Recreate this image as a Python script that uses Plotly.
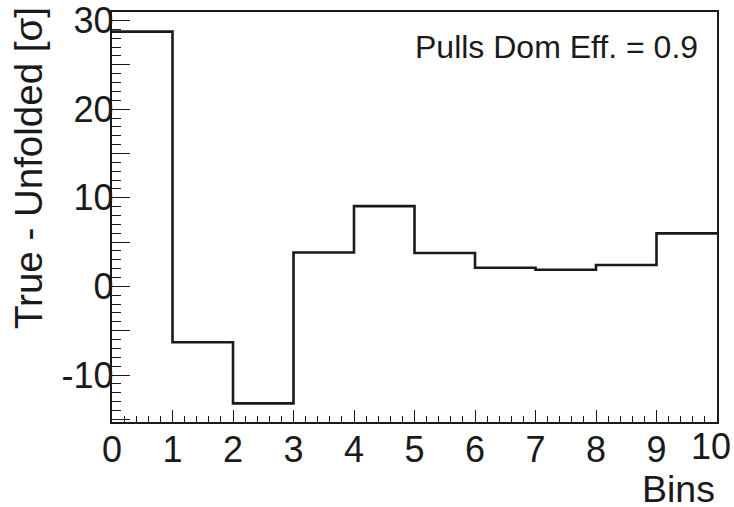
import plotly.graph_objects as go

# Data
bin_edges = [0, 1, 2, 3, 4, 5, 6, 7, 8, 9, 10]
pulls = [28.75, -6.3, -13.2, 3.83, 9.06, 3.76, 2.1, 1.88, 2.41, 5.98]
x_tick_vals = [0, 1, 2, 3, 4, 5, 6, 7, 8, 9, 10]
x_tick_labels = ["0", "1", "2", "3", "4", "5", "6", "7", "8", "9", "10"]
y_tick_vals = [-15, -10, -5, 0, 5, 10, 15, 20, 25, 30]
y_tick_labels = ["", "-10", "", "0", "", "10", "", "20", "", "30"]
x_title = "Bins"
y_title = "True - Unfolded [σ]"
label_text = "Pulls Dom Eff. = 0.9"

FONT = "Liberation Sans, Arial, Helvetica, sans-serif"
INK = "#1a1a1a"

fig = go.Figure()
fig.add_trace(go.Scatter(
    x=bin_edges,
    y=pulls + [pulls[-1]],
    mode="lines",
    line=dict(shape="hv", color=INK, width=2.6),
    hoverinfo="skip",
    showlegend=False,
))

fig.update_layout(
    template="none",
    width=734, height=507,
    margin=dict(l=112, r=17, t=12, b=85, pad=0),
    paper_bgcolor="white", plot_bgcolor="white",
    font=dict(family=FONT, color=INK),
    showlegend=False,
)

# last label sits at the canvas edge: it is drawn as an annotation, nudged inward
x_ticktext = x_tick_labels[:-1] + [""]

fig.update_xaxes(
    automargin=False,
    range=[0, 10],
    tickmode="array", tickvals=x_tick_vals, ticktext=x_ticktext,
    ticks="inside", ticklen=12, tickwidth=1.4, tickcolor=INK,
    minor=dict(dtick=0.2, tick0=0, ticks="inside", ticklen=6, tickwidth=1.4, tickcolor=INK),
    tickfont=dict(size=36, family=FONT, color=INK),
    showline=True, linewidth=2.4, linecolor=INK, mirror=True,
    showgrid=False, zeroline=False,
    ticklabelstandoff=-5,
)
fig.update_yaxes(
    automargin=False,
    range=[-15.3, 30.96],
    tickmode="array", tickvals=y_tick_vals, ticktext=y_tick_labels,
    ticks="inside", ticklen=18, tickwidth=1.4, tickcolor=INK,
    minor=dict(dtick=1, tick0=0, ticks="inside", ticklen=9, tickwidth=1.4, tickcolor=INK),
    tickfont=dict(size=36, family=FONT, color=INK),
    showline=True, linewidth=2.4, linecolor=INK, mirror=True,
    showgrid=False, zeroline=False,
    ticklabelstandoff=-11,
    ticklabeloverflow="allow",
)

fig.add_annotation(
    text=x_tick_labels[-1], xref="x", yref="paper", x=x_tick_vals[-1], y=0,
    xanchor="center", yanchor="top", xshift=-6, yshift=-2, showarrow=False,
    font=dict(size=36, family=FONT, color=INK),
)
fig.add_annotation(
    text=x_title, xref="paper", yref="paper", x=1, y=0,
    xanchor="right", yanchor="top", yshift=-44, showarrow=False,
    font=dict(size=37.5, family=FONT, color=INK),
)
fig.add_annotation(
    text=y_title, xref="paper", yref="paper", x=0, y=1,
    xanchor="center", yanchor="top", xshift=-84, yshift=7, textangle=-90,
    showarrow=False,
    font=dict(size=38.5, family=FONT, color=INK),
)
fig.add_annotation(
    text=label_text, xref="paper", yref="paper", x=(700 - 112) / 605, y=1,
    xanchor="right", yanchor="top", yshift=-15, showarrow=False,
    font=dict(size=32, family=FONT, color=INK),
)

fig.write_html(
    "out.html",
    config={"displayModeBar": False},
    post_script="document.body.style.margin='0';document.body.style.overflow='hidden';",
)
